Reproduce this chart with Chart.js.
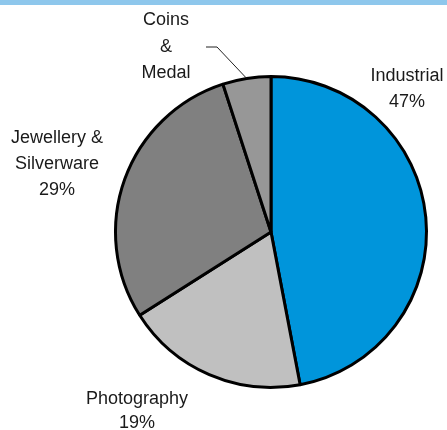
<!DOCTYPE html>
<html>
<head>
<meta charset="utf-8">
<script src="https://cdn.jsdelivr.net/npm/chart.js@4"></script>
<style>
    html, body { margin: 0; padding: 0; background: #ffffff; }
    #silverChart { display: block; }
</style>
</head>
<body>
<canvas id="silverChart" width="447" height="430"></canvas>
<script>
// Silver demand by end use, share of total
const categories = ['Industrial', 'Photography', 'Jewellery & Silverware', 'Coins & Medal'];
const shares = [47, 19, 29, 5];
const sliceColors = ['#0095DB', '#C0C0C0', '#808080', '#979797'];

// Label text lines and their placement (x centre, first baseline, line gap)
const labelLines = [
    ['Industrial', '47%'],
    ['Photography', '19%'],
    ['Jewellery &', 'Silverware', '29%'],
    ['Coins', '&', 'Medal']
];
const labelPos = [
    { x: 407, y: 81, gap: 26 },
    { x: 137, y: 404, gap: 24 },
    { x: 57, y: 143, gap: 26 },
    { x: 166, y: 25, gap: 26.5 }
];

// Blue strip across the top
const topStrip = {
    id: 'topStrip',
    beforeDraw(chart) {
        const ctx = chart.ctx;
        ctx.save();
        ctx.fillStyle = '#8EC7EC';
        ctx.fillRect(0, 0, chart.width, 5);
        ctx.restore();
    }
};

// Slice labels, plus a leader line for the small coins slice
const sliceLabels = {
    id: 'sliceLabels',
    afterDraw(chart) {
        const ctx = chart.ctx;
        const arcs = chart.getDatasetMeta(0).data;
        ctx.save();
        ctx.fillStyle = '#1a1a1a';
        ctx.font = '18px "Liberation Sans", Arial, sans-serif';
        ctx.textAlign = 'center';
        ctx.textBaseline = 'alphabetic';
        labelLines.forEach((lines, i) => {
            const p = labelPos[i];
            lines.forEach((t, j) => {
                ctx.fillText(t, p.x, p.y + j * p.gap);
            });
        });

        // leader from the coins slice edge out to its label
        const a = arcs[3];
        const mid = (a.startAngle + a.endAngle) / 2;
        const ex = a.x + Math.cos(mid) * a.outerRadius;
        const ey = a.y + Math.sin(mid) * a.outerRadius;
        ctx.strokeStyle = '#222222';
        ctx.lineWidth = 1;
        ctx.beginPath();
        ctx.moveTo(ex, ey);
        ctx.lineTo(217, 47);
        ctx.lineTo(206, 47);
        ctx.stroke();
        ctx.restore();
    }
};

new Chart(document.getElementById('silverChart'), {
    type: 'pie',
    data: {
        labels: categories,
        datasets: [{
            data: shares,
            backgroundColor: sliceColors,
            borderColor: '#000000',
            borderWidth: 3
        }]
    },
    options: {
        responsive: false,
        animation: false,
        layout: {
            padding: { left: 114, right: 19, top: 75, bottom: 41 }
        },
        plugins: {
            legend: { display: false },
            tooltip: { enabled: false }
        }
    },
    plugins: [topStrip, sliceLabels]
});
</script>
</body>
</html>
